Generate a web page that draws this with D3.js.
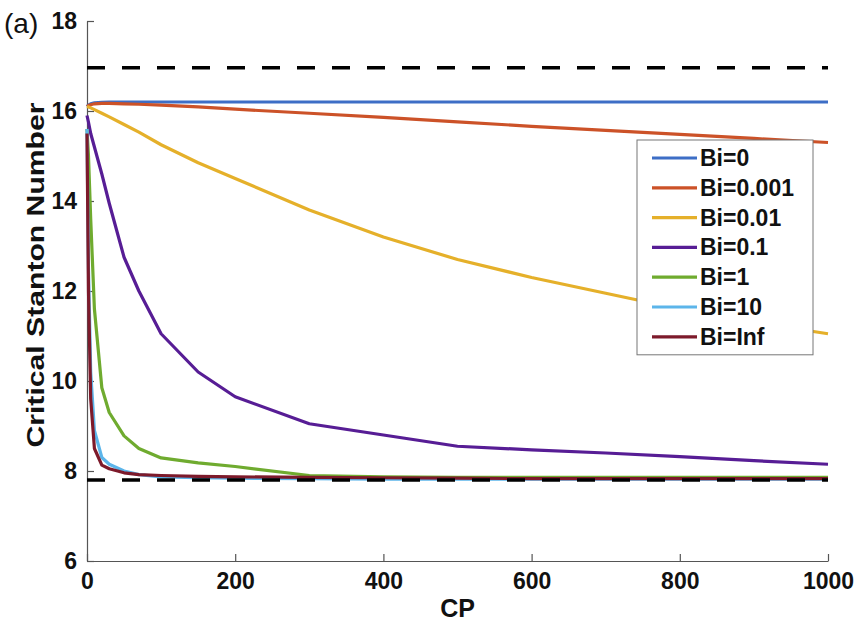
<!DOCTYPE html>
<html>
<head>
<meta charset="utf-8">
<script src="https://cdn.jsdelivr.net/npm/d3@7"></script>
<style>
  html, body { margin: 0; padding: 0; background: #fff; }
  svg { display: block; }
  text { font-family: "Liberation Sans", Arial, Helvetica, sans-serif; }
</style>
</head>
<body>
<svg id="chart" width="855" height="626"></svg>
<script>
// ---- data ----
const cp = [0, 2, 5, 10, 20, 30, 50, 70, 100, 150, 200, 300, 400, 500, 600, 700, 800, 900, 1000];
const seriesNames = ["Bi=0", "Bi=0.001", "Bi=0.01", "Bi=0.1", "Bi=1", "Bi=10", "Bi=Inf"];
const bi0    = [16.10, 16.13, 16.16, 16.18, 16.19, 16.20, 16.20, 16.20, 16.20, 16.20, 16.20, 16.20, 16.20, 16.20, 16.20, 16.20, 16.20, 16.20, 16.20];
const bi0001 = [16.10, 16.12, 16.14, 16.16, 16.17, 16.17, 16.16, 16.15, 16.13, 16.09, 16.04, 15.95, 15.86, 15.76, 15.66, 15.57, 15.48, 15.39, 15.30];
const bi001  = [16.10, 16.09, 16.07, 16.03, 15.95, 15.87, 15.70, 15.53, 15.25, 14.85, 14.50, 13.80, 13.20, 12.70, 12.30, 11.95, 11.60, 11.30, 11.05];
const bi01   = [15.90, 15.75, 15.50, 15.20, 14.60, 13.95, 12.75, 12.00, 11.05, 10.20, 9.65, 9.05, 8.80, 8.55, 8.47, 8.40, 8.32, 8.23, 8.15];
const bi1    = [15.60, 15.00, 13.60, 11.60, 9.85, 9.30, 8.78, 8.50, 8.29, 8.18, 8.10, 7.90, 7.87, 7.86, 7.86, 7.86, 7.86, 7.86, 7.86];
const bi10   = [15.60, 12.50, 10.20, 8.90, 8.30, 8.15, 8.00, 7.92, 7.87, 7.85, 7.84, 7.83, 7.82, 7.82, 7.82, 7.82, 7.82, 7.82, 7.82];
const biInf  = [15.50, 12.00, 9.60, 8.50, 8.13, 8.05, 7.96, 7.92, 7.90, 7.88, 7.87, 7.86, 7.85, 7.84, 7.83, 7.83, 7.83, 7.83, 7.83];
const seriesValues = [bi0, bi0001, bi001, bi01, bi1, bi10, biInf];
const colors = ["#3d6ec6", "#cc5228", "#e5b02a", "#571d95", "#6fab2f", "#5cb5ea", "#7d1a2b"];
const boundUpper = 16.96;
const boundLower = 7.80;
const xTicks = [0, 200, 400, 600, 800, 1000];
const yTicks = [6, 8, 10, 12, 14, 16, 18];

// ---- layout ----
const svg = d3.select("#chart");
const x = d3.scaleLinear().domain([0, 1000]).range([87, 828]);
const y = d3.scaleLinear().domain([6, 18]).range([561, 21]);

// axes (MATLAB style: ticks inward, no box)
const xAxis = d3.axisBottom(x).tickValues(xTicks).tickFormat(d3.format("d"))
  .tickSizeInner(-7).tickSizeOuter(0).tickPadding(12);
const yAxis = d3.axisLeft(y).tickValues(yTicks).tickFormat(d3.format("d"))
  .tickSizeInner(-7).tickSizeOuter(0).tickPadding(10);

const gx = svg.append("g").attr("transform", `translate(0,${y(6)})`).call(xAxis);
const gy = svg.append("g").attr("transform", `translate(${x(0)},0)`).call(yAxis);
[gx, gy].forEach(g => {
  g.select(".domain").attr("stroke", "#555").attr("stroke-width", 1.2);
  g.selectAll(".tick line").attr("stroke", "#555").attr("stroke-width", 1.2);
  g.selectAll(".tick text").attr("fill", "#111").attr("font-size", 23).attr("font-weight", "bold")
    .style("font-family", "'Liberation Sans', Arial, sans-serif");
});

// series
const line = d3.line().x((d, i) => x(cp[i])).y(d => y(d));
seriesValues.forEach((vals, k) => {
  svg.append("path").datum(vals).attr("d", line)
    .attr("fill", "none").attr("stroke", colors[k]).attr("stroke-width", 3.2)
    .attr("stroke-linejoin", "round");
});

// dashed bounds
[boundUpper, boundLower].forEach(v => {
  svg.append("line").attr("x1", x(0)).attr("x2", x(1000)).attr("y1", y(v)).attr("y2", y(v))
    .attr("stroke", "#000").attr("stroke-width", 3.4).attr("stroke-dasharray", "18,17");
});

// labels
svg.append("text").attr("x", 4).attr("y", 33).attr("font-size", 28).attr("fill", "#111").text("(a)");
svg.append("text").attr("transform", `translate(44,275) rotate(-90)`)
  .attr("text-anchor", "middle").attr("font-size", 24).attr("font-weight", "bold").attr("fill", "#111")
  .attr("textLength", 345).attr("lengthAdjust", "spacingAndGlyphs")
  .text("Critical Stanton Number");
svg.append("text").attr("x", (x(0) + x(1000)) / 2).attr("y", 617).attr("text-anchor", "middle")
  .attr("font-size", 25).attr("font-weight", "bold").attr("fill", "#111").text("CP");

// legend
const lg = svg.append("g");
const lgX = 637, lgY = 140, lgW = 176, lgRow = 29.8;
lg.append("rect").attr("x", lgX).attr("y", lgY).attr("width", lgW).attr("height", 18 + lgRow * 6 + 18)
  .attr("fill", "#fff").attr("stroke", "#777").attr("stroke-width", 1);
seriesNames.forEach((name, k) => {
  const cy = lgY + 18 + k * lgRow;
  lg.append("line").attr("x1", lgX + 15).attr("x2", lgX + 60).attr("y1", cy).attr("y2", cy)
    .attr("stroke", colors[k]).attr("stroke-width", 3.2);
  lg.append("text").attr("x", lgX + 63).attr("y", cy + 8).attr("font-size", 23).attr("font-weight", "bold")
    .attr("fill", "#111").text(name);
});
</script>
</body>
</html>
